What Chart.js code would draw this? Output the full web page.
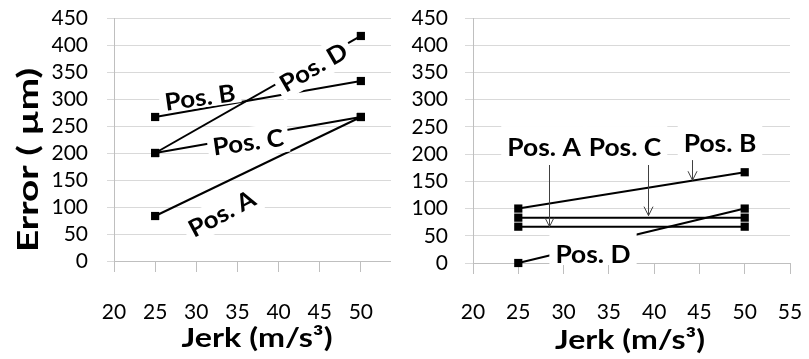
<!DOCTYPE html>
<html>
<head>
<meta charset="utf-8">
<script src="https://cdn.jsdelivr.net/npm/chart.js@4.4.1/dist/chart.umd.min.js"></script>
<style>
  html, body { margin: 0; padding: 0; background: #ffffff; }
  #wrap { position: relative; width: 809px; height: 359px; overflow: hidden; background: #fff; }
  #leftBox { position: absolute; left: 0; top: 0; width: 391px; height: 359px; overflow: hidden; }
  #rightBox { position: absolute; left: 400px; top: 0; width: 409px; height: 359px; overflow: hidden; }
  canvas { display: block; }
</style>
</head>
<body>
<div id="wrap">
  <div id="leftBox"><canvas id="leftChart" width="420" height="359" style="width:420px;height:359px"></canvas></div>
  <div id="rightBox"><canvas id="rightChart" width="409" height="359" style="width:409px;height:359px"></canvas></div>
</div>
<script>
// Jerk levels tested (m/s^3)
const jerk = [25, 50];

// Positioning error (µm), left panel
const leftPosA = [83.3, 266.7];
const leftPosB = [266.7, 333.3];
const leftPosC = [200, 266.7];
const leftPosD = [200, 416.7];

// Positioning error (µm), right panel
const rightPosA = [66.7, 66.7];
const rightPosB = [100, 166.7];
const rightPosC = [83.3, 83.3];
const rightPosD = [0, 100];

// Axis ranges and tick steps
const xRange = [20, 55];
const xStep = 5;
const yRange = [0, 450];
const yStep = 50;

const seriesNames = ['Pos. A', 'Pos. B', 'Pos. C', 'Pos. D'];
const xTitle = 'Jerk (m/s\u00B3)';
const yTitle = 'Error ( \u00B5m)';

const FONT = 'Lato, "Open Sans", "DejaVu Sans", sans-serif';

function toPoints(values) {
  return values.map((v, i) => ({ x: jerk[i], y: v }));
}

function makeDatasets(series) {
  return series.map((vals, i) => ({
    label: seriesNames[i],
    data: toPoints(vals),
    borderColor: '#000',
    borderWidth: 2,
    backgroundColor: '#000',
    pointStyle: 'rect',
    pointRadius: 5.8,
    pointBorderWidth: 0,
    pointBackgroundColor: '#000',
    tension: 0,
    clip: false
  }));
}

// Draws text centred on (cx, cy) stretched to a given width along its baseline
function drawFitted(ctx, text, cx, cy, font, width, angleDeg, capH) {
  ctx.save();
  ctx.font = font;
  const w = ctx.measureText(text).width;
  ctx.translate(cx, cy);
  ctx.rotate(angleDeg * Math.PI / 180);
  ctx.scale(width ? width / w : 1, 1);
  ctx.fillStyle = '#000';
  ctx.textAlign = 'center';
  ctx.textBaseline = 'alphabetic';
  ctx.fillText(text, 0, capH / 2);
  ctx.restore();
}

// Series name labels on white boxes, optional pointer arrows, and axis titles
const calloutPlugin = {
  id: 'callouts',
  afterDatasetsDraw(chart, args, opts) {
    const { ctx } = chart;
    const xs = chart.scales.x, ys = chart.scales.y;
    ctx.save();
    ctx.font = opts.font;
    for (const l of opts.labels) {
      const px = xs.getPixelForValue(l.x);
      const py = ys.getPixelForValue(l.y);
      const w = ctx.measureText(l.text).width * opts.stretch;
      const padX = l.padX != null ? l.padX : opts.padX;
      const boxH = l.boxH != null ? l.boxH : opts.boxH;
      const boxDy = l.boxDy || 0;
      ctx.save();
      ctx.translate(px, py);
      ctx.rotate((l.angle || 0) * Math.PI / 180);
      ctx.fillStyle = '#fff';
      ctx.fillRect(-w / 2 - padX, boxDy - boxH / 2, w + 2 * padX, boxH);
      ctx.restore();
      drawFitted(ctx, l.text, px, py, opts.font, w, l.angle || 0, opts.capH);
    }
    ctx.strokeStyle = '#404040';
    ctx.lineWidth = 1;
    for (const a of (opts.arrows || [])) {
      const px = Math.round(xs.getPixelForValue(a.x)) + 0.5;
      const y1 = ys.getPixelForValue(a.from);
      const y2 = ys.getPixelForValue(a.to);
      ctx.beginPath();
      ctx.moveTo(px, y1);
      ctx.lineTo(px, y2);
      ctx.moveTo(px - 4.5, y2 - 9);
      ctx.lineTo(px, y2);
      ctx.lineTo(px + 4.5, y2 - 9);
      ctx.stroke();
    }
    ctx.restore();
    for (const t of (opts.titles || [])) {
      drawFitted(ctx, t.text, t.cx, t.cy, t.font, t.width, t.angle, t.capH);
    }
  }
};

// Keep the plot area exactly where the layout padding puts it
function clearScalePadding(s) {
  s.paddingTop = 0;
  s.paddingBottom = 0;
  s.paddingLeft = 0;
  s.paddingRight = 0;
}

function makeOptions(cfg) {
  return {
    responsive: false,
    animation: false,
    events: [],
    layout: { autoPadding: false, padding: { top: 18, right: cfg.padRight, left: 0, bottom: 0 } },
    plugins: {
      legend: { display: false },
      tooltip: { enabled: false },
      callouts: cfg.callouts
    },
    scales: {
      x: {
        type: 'linear',
        min: xRange[0],
        max: xRange[1],
        ticks: {
          stepSize: xStep,
          autoSkip: false,
          padding: cfg.xPad,
          color: '#000',
          font: { family: FONT, size: 21 },
          maxRotation: 0
        },
        grid: {
          drawOnChartArea: false,
          drawTicks: true,
          tickLength: 11,
          color: '#bfbfbf',
          lineWidth: 1
        },
        border: { display: true, color: '#bfbfbf', width: 1 },
        afterFit(s) { s.height = cfg.xHeight; clearScalePadding(s); }
      },
      y: {
        min: yRange[0],
        max: yRange[1],
        ticks: {
          stepSize: yStep,
          autoSkip: false,
          padding: cfg.yPad,
          color: '#000',
          font: { family: FONT, size: 21 }
        },
        grid: {
          color: '#d9d9d9',
          lineWidth: 1,
          drawTicks: true,
          tickLength: cfg.yTick,
          tickColor: '#d9d9d9'
        },
        border: { display: true, color: '#bfbfbf', width: 1 },
        afterFit(s) { s.width = cfg.yWidth; clearScalePadding(s); }
      }
    }
  };
}

const labelFont = 'bold 24px ' + FONT;
const titleFont = 'bold 26px ' + FONT;

new Chart(document.getElementById('leftChart'), {
  type: 'line',
  data: { datasets: makeDatasets([leftPosA, leftPosB, leftPosC, leftPosD]) },
  plugins: [calloutPlugin],
  options: makeOptions({
    padRight: 18, xPad: 28, xHeight: 98, yPad: 19, yTick: 7, yWidth: 114,
    callouts: {
      font: labelFont, stretch: 1.08, capH: 17, padX: 5, boxH: 30,
      labels: [
        { text: seriesNames[1], x: 30.45, y: 303, angle: -8, boxH: 27, boxDy: -3 },
        { text: seriesNames[3], x: 44.25, y: 359, angle: -30 },
        { text: seriesNames[2], x: 36.3, y: 220, angle: -8 },
        { text: seriesNames[0], x: 33.1, y: 88, angle: -28 }
      ],
      titles: [
        { text: yTitle, cx: 27, cy: 160, font: 'bold 29px ' + FONT, width: 184, angle: -90, capH: 21 },
        { text: xTitle, cx: 257, cy: 338, font: titleFont, width: 151, angle: 0, capH: 18 }
      ]
    }
  })
});

new Chart(document.getElementById('rightChart'), {
  type: 'line',
  data: { datasets: makeDatasets([rightPosA, rightPosB, rightPosC, rightPosD]) },
  plugins: [calloutPlugin],
  options: makeOptions({
    padRight: 19, xPad: 26, xHeight: 96, yPad: 17, yTick: 8, yWidth: 73,
    callouts: {
      font: labelFont, stretch: 1.1, capH: 17, padX: 6, boxH: 42,
      labels: [
        { text: seriesNames[0], x: 27.84, y: 213, angle: 0 },
        { text: seriesNames[2], x: 36.78, y: 213, angle: 0 },
        { text: seriesNames[1], x: 47.27, y: 219, angle: 0 },
        { text: seriesNames[3], x: 33.25, y: 16.5, angle: 0, boxH: 32, boxDy: -5 }
      ],
      arrows: [
        { x: 28.39, from: 180, to: 66.7 },
        { x: 39.36, from: 180, to: 87 },
        { x: 44.15, from: 189, to: 152 }
      ],
      titles: [
        { text: xTitle, cx: 230, cy: 340, font: titleFont, width: 150, angle: 0, capH: 18 }
      ]
    }
  })
});
</script>
</body>
</html>
